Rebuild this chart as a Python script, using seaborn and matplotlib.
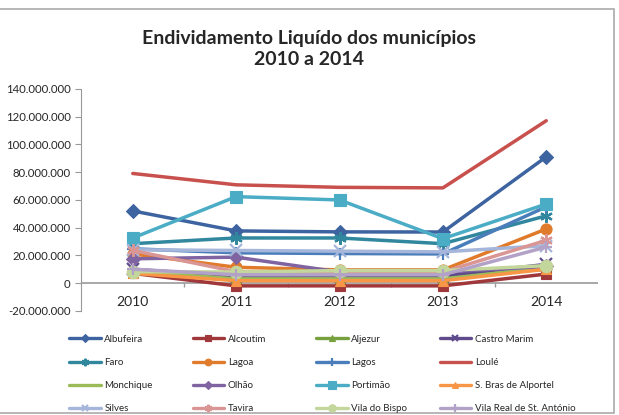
import pandas as pd
import matplotlib.pyplot as plt
import matplotlib.ticker as mticker
from matplotlib.patches import Rectangle
import seaborn as sns

# Dados
anos = ["2010", "2011", "2012", "2013", "2014"]
municipios = ["Albufeira", "Alcoutim", "Aljezur", "Castro Marim", "Faro", "Lagoa",
              "Lagos", "Loulé", "Monchique", "Olhão", "Portimão", "S. Bras de Alportel",
              "Silves", "Tavira", "Vila do Bispo", "Vila Real de St. António"]
albufeira = [52e6, 37.6e6, 36.9e6, 36.8e6, 91e6]
alcoutim = [7e6, -2e6, -2e6, -2e6, 6.5e6]
aljezur = [8e6, 4e6, 4e6, 4e6, 10e6]
castro_marim = [10e6, 5e6, 5e6, 5e6, 13.5e6]
faro = [28.4e6, 32.5e6, 32.5e6, 28.4e6, 48.5e6]
lagoa = [21e6, 11.4e6, 9.5e6, 9.5e6, 39e6]
lagos = [24.7e6, 21.8e6, 21.3e6, 21e6, 55e6]
loule = [79e6, 70.8e6, 69e6, 68.6e6, 117e6]
monchique = [8.5e6, 3e6, 3e6, 3e6, 11e6]
olhao = [17.5e6, 18.7e6, 8e6, 8e6, 12e6]
portimao = [32.5e6, 62.3e6, 59.9e6, 32e6, 57e6]
s_bras = [7e6, 1.7e6, 1.7e6, 1.7e6, 10e6]
silves = [24e6, 23.5e6, 23e6, 22.5e6, 27e6]
tavira = [23.5e6, 8.2e6, 8e6, 8e6, 30.8e6]
vila_bispo = [8.2e6, 8e6, 9e6, 9e6, 12.6e6]
vila_real = [10e6, 6e6, 6e6, 6e6, 26e6]

valores = [albufeira, alcoutim, aljezur, castro_marim, faro, lagoa, lagos, loule,
           monchique, olhao, portimao, s_bras, silves, tavira, vila_bispo, vila_real]

cores = ["#3D64A0", "#A0373A", "#77A03F", "#5F4B8B", "#31879E", "#E07B2C",
         "#4A7EBB", "#C8504D", "#9BBB59", "#8064A2", "#4BACC6", "#F79646",
         "#A5B6DA", "#D99694", "#C3D69B", "#B3A2C7"]
marcadores = ["D", "s", "^", "x", (6, 2, 0), "o", "+", None,
              None, "D", "s", "^", "x", (6, 2, 0), "o", "+"]
tamanhos = [7, 7, 7, 8, 9, 8, 9, 0, 0, 7, 9, 7, 8, 9, 9, 9]

rows = []
for m, vals in zip(municipios, valores):
    for i, v in enumerate(vals):
        rows.append({"municipio": m, "x": i, "valor": v})
df = pd.DataFrame(rows)

sns.set_style("white")
plt.rcParams["font.family"] = ["Lato", "DejaVu Sans"]

fig = plt.figure(figsize=(6.19, 4.15), dpi=100)
ax = fig.add_axes([0.131, 0.251, 0.835, 0.535])

handles = []
for m, c, mk, ms in zip(municipios, cores, marcadores, tamanhos):
    sub = df[df["municipio"] == m]
    sns.lineplot(data=sub, x="x", y="valor", color=c, linewidth=2.5,
                 marker=mk if mk is not None else "", markersize=ms,
                 markeredgecolor=c, markeredgewidth=1.6 if mk in ("x", "+", (6, 2, 0)) else 0.8,
                 ax=ax, label=m, legend=False)
    handles.append(ax.lines[-1])

ax.set_xlim(-0.5, 4.5)
ax.set_ylim(-20e6, 140e6)

# eixo das categorias sobre o zero
ax.axhline(0, color="#999999", linewidth=1.2, zorder=0.5)
ax.vlines([0.5, 1.5, 2.5, 3.5], 0, -2.9e6, color="#999999", linewidth=1, zorder=0.5)
ax.set_xticks(range(5))
ax.set_xticklabels(anos, fontsize=10)
ax.tick_params(axis="x", which="major", length=0, pad=-11)

ax.set_yticks(range(-20000000, 140000001, 20000000))
ax.yaxis.set_major_formatter(mticker.FuncFormatter(lambda v, p: f"{v:,.0f}".replace(",", ".")))
ax.tick_params(axis="y", length=4, color="#999999", direction="out", left=True, labelsize=8.2)
ax.set_xlabel("")
ax.set_ylabel("")

for s in ["top", "right", "bottom"]:
    ax.spines[s].set_visible(False)
ax.spines["left"].set_color("#999999")

fig.text(0.5, 0.882, "Endividamento Liquído dos municípios\n2010 a 2014",
         ha="center", va="center", fontsize=14, fontweight="bold", linespacing=1.3)

# legenda em 4 colunas fixas
for col in range(4):
    hs = [handles[r * 4 + col] for r in range(4)]
    ls = [municipios[r * 4 + col] for r in range(4)]
    leg = fig.legend(hs, ls, loc="upper left",
                     bbox_to_anchor=((68 + col * 123.5) / 619 - 0.004, 1 - 331 / 415),
                     frameon=False, fontsize=7, handlelength=3.2, handletextpad=0.4,
                     labelspacing=1.45, markerscale=0.6, borderaxespad=0)
    for ln in leg.get_lines():
        ln.set_linewidth(2.4)

fig.patches.append(Rectangle((-1 / 619, 2 / 415), 615 / 619, 404 / 415,
                             transform=fig.transFigure, fill=False,
                             edgecolor="#AAAAAA", linewidth=1.2))

fig.savefig("out.png", dpi=100)
